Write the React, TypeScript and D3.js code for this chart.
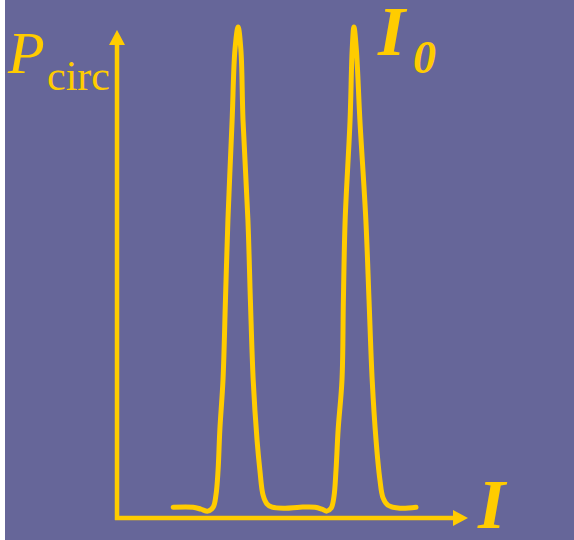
import React from "react";
import * as d3 from "d3";

// Wavelength (arbitrary units) and circulating power (% of peak)
const wavelength = [
  16.0, 21.7, 23.9, 25.9, 27.4, 28.2, 28.8, 29.3, 30.2, 30.9, 31.6, 32.8, 33.6, 34.5,
  35.3, 35.9, 37.3, 38.0, 38.8, 39.9, 40.7, 41.6, 42.7, 44.2, 47.9, 52.1, 56.4, 58.4,
  59.8, 61.0, 61.8, 62.4, 63.0, 64.1, 64.5, 65.0, 66.4, 67.0, 67.5, 68.2, 69.2, 70.9,
  71.8, 72.7, 73.8, 74.9, 75.8, 77.2, 80.6, 85.2,
];
const power = [
  2.0, 2.0, 1.6, 1.2, 2.0, 4.5, 9.6, 17.8, 28.0, 44.3, 60.6, 81.0, 95.3, 100,
  95.3, 81.0, 60.6, 44.3, 28.0, 15.7, 9.6, 4.5, 2.7, 2.0, 1.8, 2.0, 2.0, 1.6,
  1.2, 1.8, 4.1, 9.6, 17.8, 28.0, 44.3, 60.6, 81.0, 95.3, 100, 95.3, 81.0, 60.6,
  44.3, 28.0, 15.7, 7.6, 3.9, 2.4, 1.8, 2.0,
];

const W = 574;
const H = 540;
const BG = "#666699";
const FG = "#FFCC00";
const SERIF = "'Liberation Serif', 'Times New Roman', serif";

export default function App() {
  const x = d3.scaleLinear().domain([0, 100]).range([117, 468]);
  const y = d3.scaleLinear().domain([0, 100]).range([517, 27]);

  const pts: [number, number][] = wavelength.map((w, i) => [w, power[i]]);
  const line = d3
    .line<[number, number]>()
    .x((d) => x(d[0]))
    .y((d) => y(d[1]))
    .curve(d3.curveCatmullRom.alpha(0.5));

  const x0 = x(0);
  const y0 = y(0) + 1;
  const xEnd = x(100);
  const yTop = 30;

  return (
    <svg
      width={W}
      height={H}
      style={{ position: "absolute", left: 0, top: 0, display: "block" }}
    >
      <rect x={0} y={0} width={W} height={H} fill="#ffffff" />
      <rect x={5} y={0} width={W - 5} height={H} fill={BG} />

      {/* axes */}
      <line x1={x0} y1={y0 + 2} x2={x0} y2={yTop + 14} stroke={FG} strokeWidth={4.5} />
      <path d={`M${x0 - 8},${yTop + 15} L${x0},${yTop} L${x0 + 8},${yTop + 15} Z`} fill={FG} />
      <line x1={x0 - 2} y1={y0} x2={xEnd - 14} y2={y0} stroke={FG} strokeWidth={4.5} />
      <path d={`M${xEnd - 15},${y0 - 8} L${xEnd},${y0} L${xEnd - 15},${y0 + 8} Z`} fill={FG} />

      {/* curve */}
      <path
        d={line(pts) || ""}
        fill="none"
        stroke={FG}
        strokeWidth={5}
        strokeLinecap="round"
        strokeLinejoin="round"
      />

      {/* labels */}
      <text x={8} y={73} fill={FG} fontFamily={SERIF} fontStyle="italic" fontSize={60}>
        P
      </text>
      <text x={47} y={90} fill={FG} fontFamily={SERIF} fontSize={42}>
        circ
      </text>
      <text x={378} y={55} fill={FG} fontFamily={SERIF} fontStyle="italic" fontWeight="bold" fontSize={70}>
        I
      </text>
      <text x={413} y={73} fill={FG} fontFamily={SERIF} fontStyle="italic" fontWeight="bold" fontSize={46}>
        0
      </text>
      <text x={478} y={528} fill={FG} fontFamily={SERIF} fontStyle="italic" fontWeight="bold" fontSize={70}>
        I
      </text>
    </svg>
  );
}
